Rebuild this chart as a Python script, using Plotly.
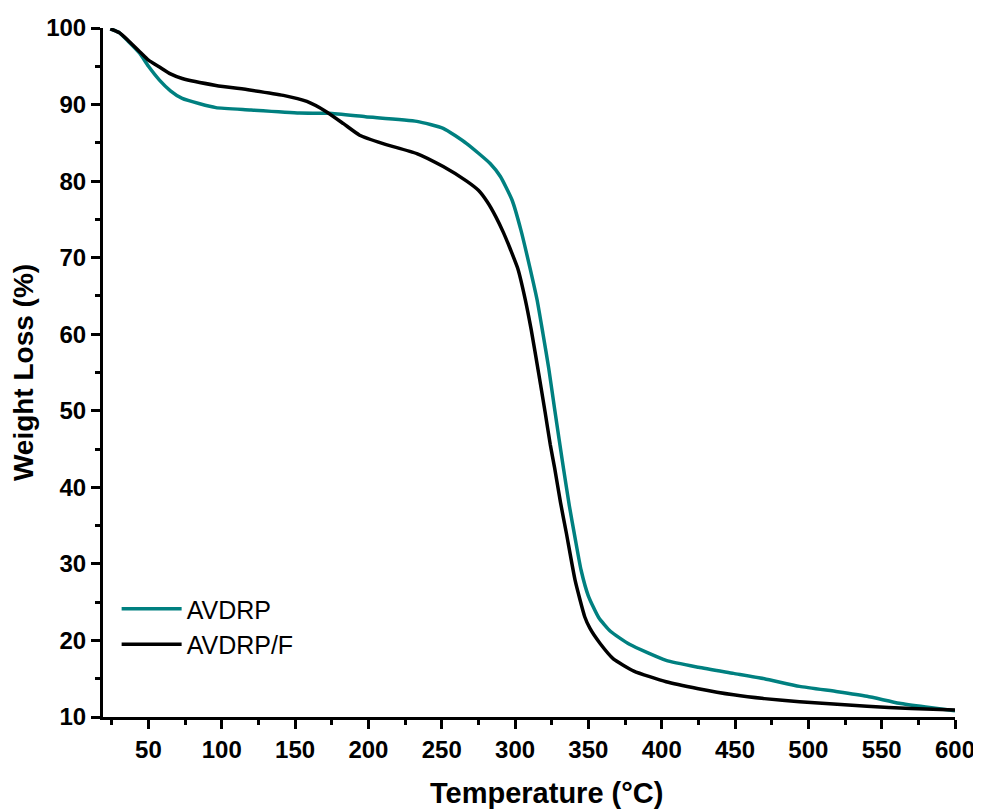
import plotly.graph_objects as go

# AVDRP (teal)
temp_avdrp = [24, 30, 36, 44, 50, 57.5, 65, 73, 85, 96, 119, 153, 173, 198, 233, 251, 267,
              283, 290, 298, 304, 310, 315, 319, 323, 327, 330, 333, 337, 341, 345, 350, 357, 365,
              378, 403, 425, 449, 470, 494, 520, 540, 562, 580, 600]
wt_avdrp = [99.9, 99.4, 98.3, 96.7, 95.0, 93.2, 91.8, 90.8, 90.1, 89.6, 89.3, 88.9, 88.85, 88.4, 87.8, 86.9, 84.9,
            82.3, 80.6, 77.5, 73.6, 68.8, 64.5, 60.1, 55.5, 50.2, 46.3, 42.5, 37.6, 33.3, 29.2, 25.8, 23.0, 21.2,
            19.5, 17.4, 16.5, 15.7, 15.0, 14.0, 13.3, 12.7, 11.8, 11.3, 10.8]

# AVDRP/F (black)
temp_avdrpf = [24, 30, 36, 44, 50, 57.5, 65, 73, 96, 119, 142, 158, 171, 183, 194, 210, 233, 251,
               267, 275, 281, 287, 292, 297, 302, 307, 311, 316, 320.5, 324, 327, 331, 335, 341, 347.5, 351, 358, 367,
               381, 403, 425, 449, 470, 494, 540, 570, 600]
wt_avdrpf = [99.9, 99.4, 98.4, 96.9, 95.8, 94.9, 94.0, 93.4, 92.5, 91.9, 91.2, 90.4, 89.1, 87.5, 86.0, 84.9, 83.6, 81.9,
             80.0, 78.8, 77.3, 75.3, 73.3, 71.0, 68.5, 64.5, 60.6, 55.0, 49.8, 45.6, 42.5, 38.0, 34.0, 27.8, 23.1, 21.6, 19.6, 17.6,
             16.0, 14.6, 13.7, 12.9, 12.4, 12.0, 11.4, 11.1, 10.9]

x_ticks = [50, 100, 150, 200, 250, 300, 350, 400, 450, 500, 550, 600]
y_ticks = [10, 20, 30, 40, 50, 60, 70, 80, 90, 100]

FONT = "Liberation Sans, Arial, sans-serif"

fig = go.Figure()
fig.add_trace(go.Scatter(x=temp_avdrp, y=wt_avdrp, mode="lines", name="AVDRP",
                         line=dict(color="#008080", width=3.5, shape="spline", smoothing=0.5)))
fig.add_trace(go.Scatter(x=temp_avdrpf, y=wt_avdrpf, mode="lines", name="AVDRP/F",
                         line=dict(color="#000000", width=3.5, shape="spline", smoothing=0.5)))

axis_common = dict(
    showline=True, linecolor="black", linewidth=3, mirror=False,
    ticks="outside", ticklen=9, tickwidth=3, tickcolor="black",
    showgrid=False, zeroline=False,
    tickfont=dict(family=FONT, size=24, color="black", weight="bold"),
)

fig.update_xaxes(**axis_common, range=[19, 600], tickvals=x_ticks,
                 minor=dict(dtick=25, tick0=0, ticklen=5, tickwidth=3, tickcolor="black", ticks="outside"))
fig.update_yaxes(**axis_common, range=[10, 100], tickvals=y_ticks,
                 minor=dict(dtick=5, tick0=0, ticklen=5, tickwidth=3, tickcolor="black", ticks="outside"),
                 title=dict(text="Weight Loss (%)", standoff=12,
                            font=dict(family=FONT, size=28, color="black", weight="bold")))

fig.add_annotation(text="Temperature (°C)", xref="paper", yref="paper", x=0.52, y=0,
                   xanchor="center", yanchor="middle", yshift=-76, showarrow=False,
                   font=dict(family=FONT, size=29, color="black", weight="bold"))

fig.update_layout(
    width=973, height=802,
    margin=dict(l=95, r=26, t=20, b=93, autoexpand=False),
    plot_bgcolor="white", paper_bgcolor="white",
    showlegend=True,
    legend=dict(x=0.016, y=0.19, xanchor="left", yanchor="top",
                bgcolor="rgba(0,0,0,0)", borderwidth=0,
                font=dict(family=FONT, size=25, color="black"),
                itemwidth=60, tracegroupgap=0),
)

fig.write_html("out.html")
